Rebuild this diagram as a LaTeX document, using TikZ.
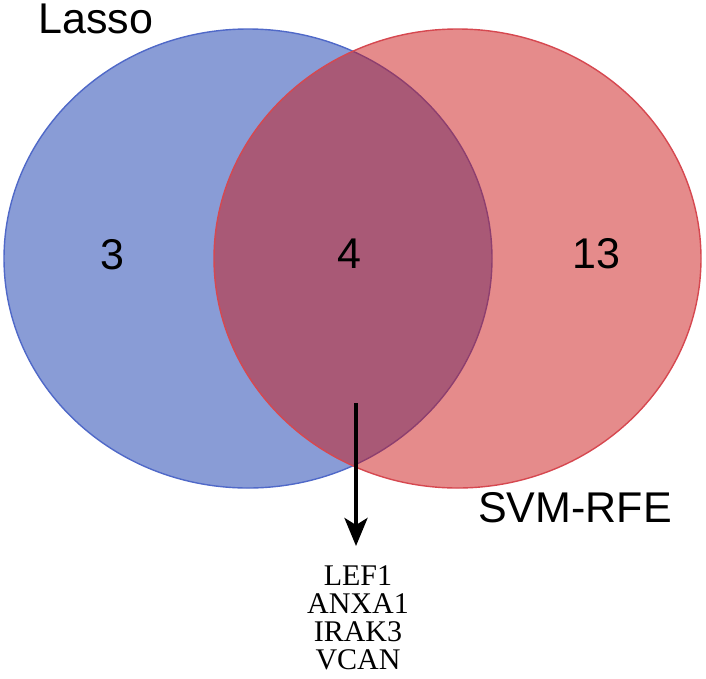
\documentclass[tikz,border=0pt]{standalone}
\usepackage{fontspec}
\usepackage{tikz}
\usetikzlibrary{arrows.meta, positioning}
\newfontfamily\vennsans{Liberation Sans}
\newfontfamily\vennserif{Liberation Serif}
\definecolor{lassoblue}{RGB}{19,57,173}
\definecolor{lassoline}{RGB}{80,105,200}
\definecolor{svmred}{RGB}{203,23,23}
\definecolor{svmline}{RGB}{214,72,80}

\begin{document}
\begin{tikzpicture}[x=1pt, y=-1pt, >=Stealth,
    setlabel/.style={font=\vennsans\fontsize{43}{43}\selectfont, inner sep=0pt, anchor=base},
    count/.style={font=\vennsans\fontsize{43}{43}\selectfont, inner sep=0pt, anchor=base}]
  \useasboundingbox (0,0) rectangle (706,678);

  %% sets
  \fill[lassoblue, fill opacity=0.5] (248,258.5) ellipse [x radius=244, y radius=229.5];
  \draw[lassoline, line width=1.4pt] (248,258.5) ellipse [x radius=244, y radius=229.5];
  \fill[svmred, fill opacity=0.5] (457.5,258.5) ellipse [x radius=243.5, y radius=229.5];
  \draw[svmline, line width=1.4pt] (457.5,258.5) ellipse [x radius=243.5, y radius=229.5];

  %% labels and counts
  \node[setlabel] (lasso) at (96,33.5) {Lasso};
  \node[setlabel] (svm) at (575,522.5) {SVM-RFE};
  \node[count] (onlyA) at (112,269.5) {3};
  \node[count] (both) at (349.5,268.5) {4};
  \node[count] (onlyB) at (596,268.5) {13};

  %% shared genes
  \node[font=\vennserif\fontsize{30}{28}\selectfont, align=center, inner sep=0pt, anchor=north]
    (genes) at (358,565) {LEF1\\ANXA1\\IRAK3\\VCAN};
  \coordinate (tail) at (356,403);
  \draw[-{Stealth[length=28pt, width=23pt, inset=7pt]}, line width=4pt]
    (tail) -- ([xshift=-2pt, yshift=19pt]genes.north);
\end{tikzpicture}
\end{document}
